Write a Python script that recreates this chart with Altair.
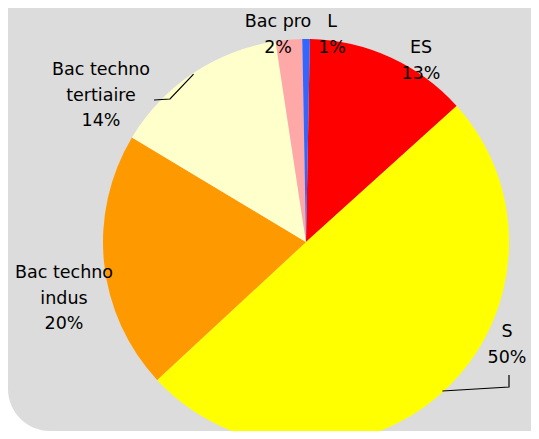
import math
import altair as alt
import pandas as pd

# ---- data ----
categories = ["ES", "S", "Bac techno indus", "Bac techno tertiaire", "Bac pro", "L"]
values = [13.0, 49.8, 20.5, 14.0, 2.1, 0.6]
pct_labels = ["13%", "50%", "20%", "14%", "2%", "1%"]
label_lines = [["ES"], ["S"], ["Bac techno", "indus"], ["Bac techno", "tertiaire"], ["Bac pro"], ["L"]]
colors = ["#FF0000", "#FFFF00", "#FF9900", "#FFFFCC", "#FFA8A8", "#3366FF"]

# ---- layout (chart pixel coordinates, not data) ----
W, H = 523, 423
CX, CY, R = 298, 234, 203
START_DEG = 1.1
BG = "#DCDCDC"
# centre of the first text line of each label and line spacing
label_pos = [(413, 40), (499, 324), (56, 265), (93, 62), (270, 14), (324, 14)]
LINE_STEP = 25.5
# label-side points of the leader lines (index -> list of points)
leader_start = {3: [(146, 92), (162, 91)], 1: [(501, 367), (501, 379)]}

df = pd.DataFrame({"cat": categories, "value": values, "order": list(range(len(categories)))})

total = sum(values)
start = math.radians(START_DEG)

# text rows
trows = []
for i, (lines, pct) in enumerate(zip(label_lines, pct_labels)):
    x0, y0 = label_pos[i]
    for k, t in enumerate(lines + [pct]):
        trows.append({"t": t, "px": x0, "py": y0 + k * LINE_STEP})
tdf = pd.DataFrame(trows)

# leader lines: end on the slice edge at its mid angle
lrows = []
cum = 0.0
mids = []
for v in values:
    mids.append(start + 2 * math.pi * (cum + v / 2) / total)
    cum += v
for i, pts in leader_start.items():
    a = mids[i]
    ex = CX + (R - 1) * math.sin(a)
    ey = CY - (R - 1) * math.cos(a)
    allpts = pts + [(ex, ey)]
    for j, (px, py) in enumerate(allpts):
        lrows.append({"g": i, "o": j, "px": px, "py": py})
ldf = pd.DataFrame(lrows)

bg = alt.Chart(pd.DataFrame({"a": [0]})).mark_rect(
    color=BG, cornerRadiusBottomLeft=42
).encode(x=alt.value(0), x2=alt.value(W + 60), y=alt.value(-60), y2=alt.value(H))

pie = alt.Chart(df).mark_arc(outerRadius=R, stroke=None).encode(
    theta=alt.Theta("value:Q", stack=True,
                    scale=alt.Scale(range=[start, start + 2 * math.pi])),
    color=alt.Color("cat:N", scale=alt.Scale(domain=categories, range=colors), legend=None),
    order=alt.Order("order:Q"),
    x=alt.value(CX),
    y=alt.value(CY),
)

lines = alt.Chart(ldf).mark_line(color="black", strokeWidth=1.2).encode(
    x=alt.X("px:Q", scale=None),
    y=alt.Y("py:Q", scale=None),
    detail="g:N",
    order="o:Q",
)

texts = alt.Chart(tdf).mark_text(
    font="DejaVu Sans", fontSize=17.5, color="black", baseline="middle", align="center"
).encode(
    x=alt.X("px:Q", scale=None),
    y=alt.Y("py:Q", scale=None),
    text="t:N",
)

chart = alt.layer(bg, pie, lines, texts).properties(
    width=W, height=H, padding=0, autosize="none", background="white"
).configure_view(stroke=None)

chart.save("out.html", embed_options={"renderer": "svg", "actions": False})
